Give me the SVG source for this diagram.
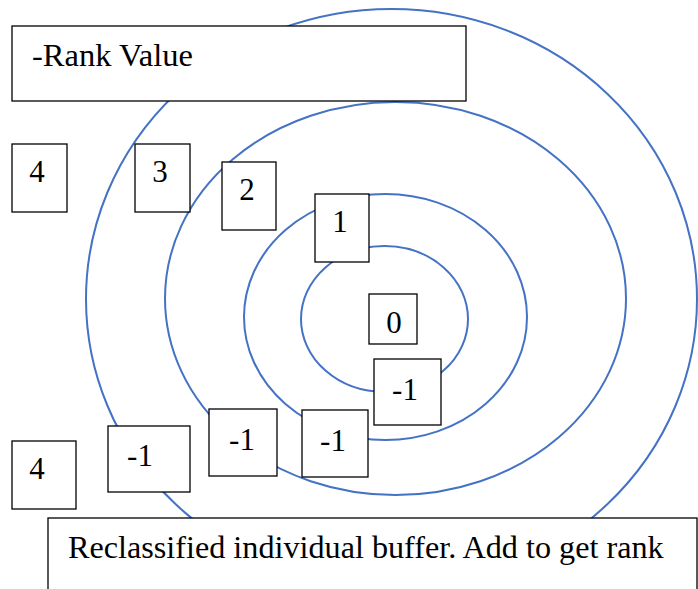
<svg xmlns="http://www.w3.org/2000/svg" width="698" height="589" viewBox="0 0 698 589">
<style>
.ring{fill:none;stroke:#4472C4;stroke-width:2}
.box{fill:#fff;stroke:#000;stroke-width:1.3}
.t{font-family:"Liberation Serif","Times New Roman",serif;font-size:31px;fill:#000}
.c{text-anchor:middle}
.lab{font-size:32.5px}
.cap{font-size:32.2px}
</style>
<rect width="698" height="589" fill="#fff"/>
<g id="connectors">
<ellipse class="ring" cx="391.5" cy="299" rx="305.5" ry="290"/>
<ellipse class="ring" cx="395.5" cy="298.5" rx="230.5" ry="196.5"/>
<ellipse class="ring" cx="385.5" cy="317" rx="141.5" ry="123"/>
<ellipse class="ring" cx="384.5" cy="319" rx="83.5" ry="73"/>
</g>
<g id="rank-title">
<rect class="box" x="12" y="26" width="454" height="75"/>
<text class="t lab" x="32" y="66">-Rank Value</text>
</g>
<g id="n4a"><rect class="box" x="12" y="144" width="55" height="68"/><text class="t c" x="37" y="182">4</text></g>
<g id="n3"><rect class="box" x="135" y="144" width="55" height="68"/><text class="t c" x="160" y="182">3</text></g>
<g id="n2"><rect class="box" x="222" y="162" width="54" height="68"/><text class="t c" x="247" y="200">2</text></g>
<g id="n1"><rect class="box" x="315" y="194" width="54" height="68"/><text class="t c" x="340" y="232">1</text></g>
<g id="n0"><rect class="box" x="369" y="294" width="48" height="50"/><text class="t c" x="394" y="333">0</text></g>
<g id="m1a"><rect class="box" x="374" y="359" width="67" height="66"/><text class="t c" x="405" y="400">-1</text></g>
<g id="m1b"><rect class="box" x="302" y="410" width="66" height="67"/><text class="t c" x="333" y="451">-1</text></g>
<g id="m1c"><rect class="box" x="209" y="409" width="68" height="67"/><text class="t c" x="242" y="450">-1</text></g>
<g id="m1d"><rect class="box" x="108" y="426" width="82" height="66"/><text class="t c" x="140" y="466">-1</text></g>
<g id="n4b"><rect class="box" x="12" y="441" width="64" height="68"/><text class="t c" x="37" y="479">4</text></g>
<g id="caption">
<rect class="box" x="48" y="518" width="649" height="90"/>
<text class="t cap" x="68" y="558">Reclassified individual buffer. Add to get rank</text>
</g>
</svg>
